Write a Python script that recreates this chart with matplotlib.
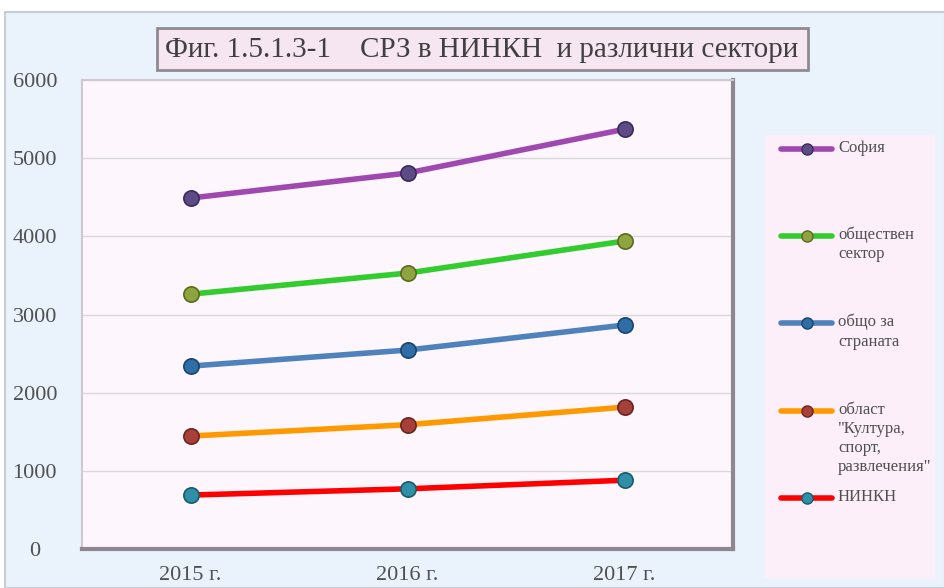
import matplotlib.pyplot as plt
from matplotlib.patches import Rectangle
from matplotlib.lines import Line2D

years = ['2015 г.', '2016 г.', '2017 г.']
series_names = ['София', 'обществен\nсектор', 'общо за\nстраната',
                'област\n"Култура,\nспорт,\nразвлечения"', 'НИНКН']
sofia = [4490, 4810, 5370]
public_sector = [3260, 3530, 3940]
country_total = [2340, 2545, 2865]
culture_sport = [1445, 1590, 1815]
ninkn = [690, 770, 880]
values = [sofia, public_sector, country_total, culture_sport, ninkn]

line_colors = ['#9E48B0', '#33CC2E', '#4F81BD', '#FF9900', '#FF0000']
marker_colors = ['#5E4A86', '#8FA33E', '#2F6DA6', '#A8403A', '#2E8FA6']
marker_edges = ['#3A2C58', '#5A6A20', '#1A4470', '#6A2420', '#1A5A6E']

W, H = 945, 588
fig = plt.figure(figsize=(W / 100, H / 100), dpi=100, facecolor='white')
plt.rcParams['font.family'] = ['Liberation Serif', 'DejaVu Serif']


def fx(px):
    return px / W


def fy(py):
    return 1 - py / H


# outer chart area
fig.add_artist(Rectangle((fx(5), 0), fx(940), fy(12), transform=fig.transFigure,
                         facecolor='#EAF2FC', edgecolor='#C8CDD4', lw=1.5, zorder=0))
# legend panel
fig.add_artist(Rectangle((fx(765), fy(578)), fx(170), fy(135) - fy(578),
                         transform=fig.transFigure, facecolor='#FCEFF9',
                         edgecolor='none', zorder=0))

# title box
fig.add_artist(Rectangle((fx(157), fy(70)), fx(651), fy(28) - fy(70),
                         transform=fig.transFigure, facecolor='#F6E6F2',
                         edgecolor='#8E8A90', lw=2, zorder=1))
fig.text(fx(482), fy(50), 'Фиг. 1.5.1.3-1    СРЗ в НИНКН  и различни сектори',
         ha='center', va='center', fontsize=21, color='#404040', zorder=2)

ax = fig.add_axes([fx(82), fy(549), fx(651), fy(80) - fy(549)])
ax.set_facecolor('#FDF6FC')

x = range(len(years))
for vals, lc, mc, me in zip(values, line_colors, marker_colors, marker_edges):
    ax.plot(x, vals, color=lc, lw=4, marker='o', markersize=11,
            markerfacecolor=mc, markeredgecolor=me, markeredgewidth=1.2,
            solid_capstyle='round', zorder=3)

ax.set_xlim(-0.5, 2.5)
ax.set_ylim(0, 6000)
ax.set_yticks(range(0, 7000, 1000))
ax.set_xticks(list(x))
ax.set_xticklabels(years)
ax.grid(axis='y', color='#D9D9D9', lw=1)
ax.set_axisbelow(True)
ax.tick_params(axis='y', length=0, pad=34, labelsize=16, labelcolor='#505050')
ax.tick_params(axis='x', length=0, pad=12, labelsize=16, labelcolor='#505050')
for lab in ax.get_yticklabels():
    lab.set_ha('center')

for side in ['left', 'top']:
    ax.spines[side].set_color('#D0C8D0')
    ax.spines[side].set_linewidth(1.5)
for side in ['right', 'bottom']:
    ax.spines[side].set_color('#8E8690')
    ax.spines[side].set_linewidth(3)

# legend drawn by hand so handles sit on the first text line
legend_y = [149, 236, 323, 411, 498]
for name, ly, lc, mc, me in zip(series_names, legend_y, line_colors,
                                marker_colors, marker_edges):
    fig.add_artist(Line2D([fx(781), fx(832)], [fy(ly), fy(ly)], color=lc, lw=4,
                          solid_capstyle='round', transform=fig.transFigure))
    fig.add_artist(Line2D([fx(807)], [fy(ly)], marker='o', markersize=8,
                          markerfacecolor=mc, markeredgecolor=me,
                          transform=fig.transFigure))
    fig.text(fx(838), fy(ly - 9), name, ha='left', va='top', fontsize=12,
             color='#505050', linespacing=1.25)

fig.savefig('out.png', dpi=100)
